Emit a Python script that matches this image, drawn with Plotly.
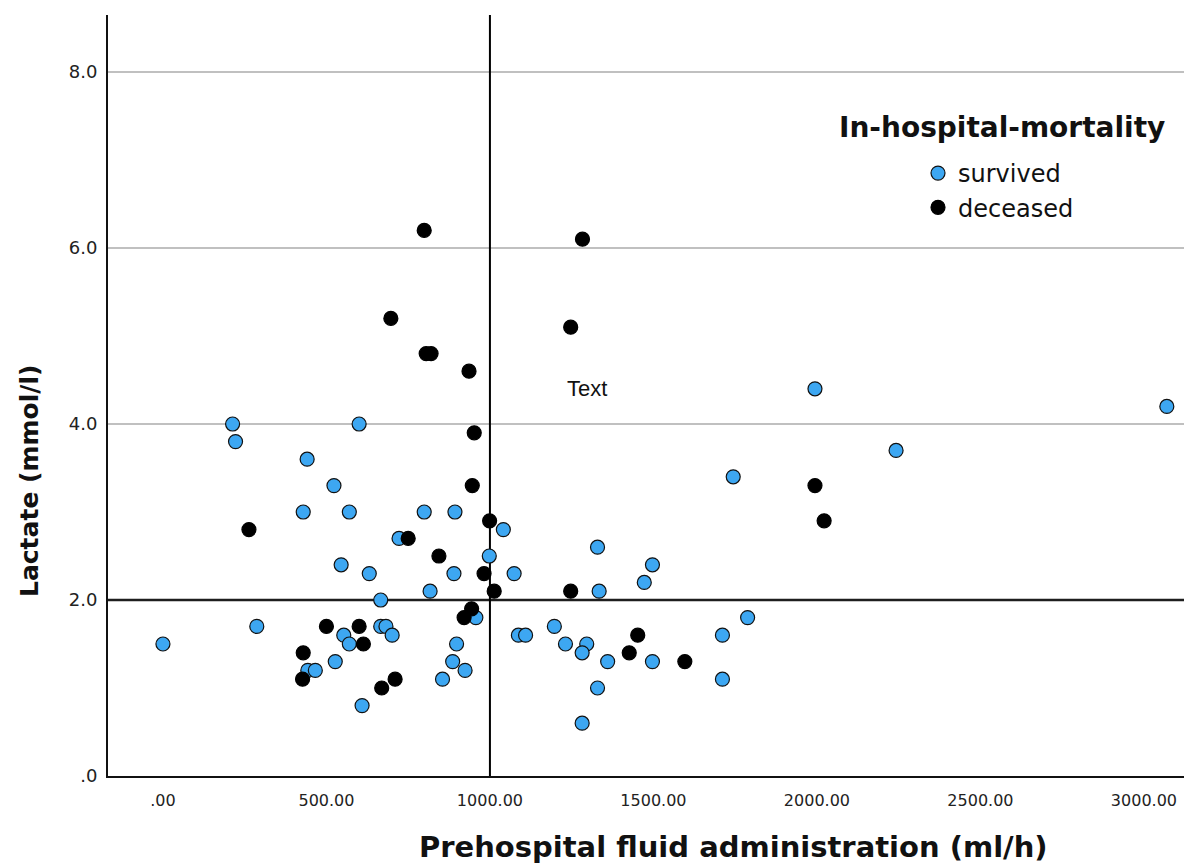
import plotly.graph_objects as go

# ---- data ----
survived_fluid = [0, 213, 222, 287, 600, 441, 429, 523, 570, 545, 631, 666, 666, 682,
                  553, 570, 701, 527, 443, 466, 609, 722, 799, 893, 1041, 998, 890, 1074,
                  817, 1334, 1329, 1497, 1472, 957, 898, 886, 924, 855, 1087, 1109, 1197,
                  1231, 1296, 1282, 1360, 1329, 1282, 1497, 1994, 2242, 1744, 1788, 1711,
                  1711, 3070]
survived_lactate = [1.5, 4.0, 3.8, 1.7, 4.0, 3.6, 3.0, 3.3, 3.0, 2.4, 2.3, 2.0, 1.7, 1.7,
                    1.6, 1.5, 1.6, 1.3, 1.2, 1.2, 0.8, 2.7, 3.0, 3.0, 2.8, 2.5, 2.3, 2.3,
                    2.1, 2.1, 2.6, 2.4, 2.2, 1.8, 1.5, 1.3, 1.2, 1.1, 1.6, 1.6, 1.7,
                    1.5, 1.5, 1.4, 1.3, 1.0, 0.6, 1.3, 4.4, 3.7, 3.4, 1.8, 1.6,
                    1.1, 4.2]

deceased_fluid = [263, 500, 600, 613, 429, 427, 669, 710, 952, 946, 999, 750, 844, 982,
                  1013, 1247, 944, 921, 1452, 1426, 1596, 1994, 2022, 799, 1283, 697,
                  1247, 805, 820, 936]
deceased_lactate = [2.8, 1.7, 1.7, 1.5, 1.4, 1.1, 1.0, 1.1, 3.9, 3.3, 2.9, 2.7, 2.5, 2.3,
                    2.1, 2.1, 1.9, 1.8, 1.6, 1.4, 1.3, 3.3, 2.9, 6.2, 6.1, 5.2,
                    5.1, 4.8, 4.8, 4.6]

group_names = ["survived", "deceased"]
legend_title = "In-hospital-mortality"
x_title = "Prehospital fluid administration (ml/h)"
y_title = "Lactate (mmol/l)"
x_tick_vals = [0, 500, 1000, 1500, 2000, 2500, 3000]
x_tick_text = [".00", "500.00", "1000.00", "1500.00", "2000.00", "2500.00", "3000.00"]
y_tick_vals = [0, 2, 4, 6, 8]
y_tick_text = [".0", "2.0", "4.0", "6.0", "8.0"]
ref_fluid = 1000
ref_lactate = 2.0
note_text = "Text"
note_pos = (1297, 4.4)

# ---- styles / geometry ----
BLUE = "#3DA7F2"
OFF = 8                      # page body margin of the html page
W, H = 1192 - OFF, 867 - OFF
M_L, M_R, M_T = 108 - OFF, 0, 15 - OFF
M_B = H - (776 - OFF)
PW, PH = W - M_L - M_R, H - M_T - M_B


def px_to_paper(sx, sy):
    """screen pixel -> paper coordinates"""
    fx, fy = sx - OFF, sy - OFF
    return (fx - M_L) / PW, (H - M_B - fy) / PH


fig = go.Figure()
fig.add_trace(go.Scatter(
    x=survived_fluid, y=survived_lactate, mode="markers", name=group_names[0],
    marker=dict(size=14, color=BLUE, line=dict(color="#111111", width=1.2)),
    cliponaxis=False,
))
fig.add_trace(go.Scatter(
    x=deceased_fluid, y=deceased_lactate, mode="markers", name=group_names[1],
    marker=dict(size=14, color="#000000", line=dict(color="#000000", width=1.2)),
    cliponaxis=False,
))

# horizontal grid lines (at the y ticks, except the reference line and the axis)
for v in y_tick_vals:
    if v in (0, ref_lactate):
        continue
    fig.add_shape(type="line", xref="paper", yref="y", x0=0, x1=1, y0=v, y1=v,
                  line=dict(color="#ABABAB", width=1.5), layer="below")

# reference lines
fig.add_shape(type="line", xref="paper", yref="y", x0=0, x1=1, y0=ref_lactate, y1=ref_lactate,
              line=dict(color="#1E1E1E", width=2.5), layer="below")
fig.add_shape(type="line", xref="x", yref="paper", x0=ref_fluid, x1=ref_fluid, y0=0, y1=1,
              line=dict(color="#000000", width=2), layer="below")

fig.add_annotation(x=note_pos[0], y=note_pos[1], xref="x", yref="y", text=note_text,
                   showarrow=False, font=dict(family="Liberation Sans", size=22, color="#111111"))

# legend title
tx, ty = px_to_paper(1002, 127)
fig.add_annotation(x=tx, y=ty, xref="paper", yref="paper",
                   text="<b>" + legend_title + "</b>", showarrow=False,
                   xanchor="center", yanchor="middle",
                   font=dict(family="DejaVu Sans", size=28, color="#111111"))

# axis titles
ax, ay = px_to_paper(733, 847)
fig.add_annotation(x=ax, y=ay, xref="paper", yref="paper",
                   text="<b>" + x_title + "</b>", showarrow=False,
                   xanchor="center", yanchor="middle",
                   font=dict(family="DejaVu Sans", size=29, color="#111111"))
bx, by = px_to_paper(29, 481)
fig.add_annotation(x=bx, y=by, xref="paper", yref="paper",
                   text="<b>" + y_title + "</b>", showarrow=False, textangle=-90,
                   xanchor="center", yanchor="middle",
                   font=dict(family="DejaVu Sans", size=25, color="#111111"))

lx, ly = px_to_paper(918, 151)
fig.update_layout(
    width=W, height=H,
    margin=dict(l=M_L, r=M_R, t=M_T, b=M_B, pad=0, autoexpand=False),
    paper_bgcolor="white", plot_bgcolor="white",
    showlegend=True,
    legend=dict(x=lx, y=ly, xanchor="left", yanchor="top", bgcolor="rgba(0,0,0,0)",
                font=dict(family="DejaVu Sans", size=24, color="#111111"),
                itemwidth=30, tracegroupgap=0),
    xaxis=dict(
        range=[-168, 3147], tickmode="array", tickvals=x_tick_vals, ticktext=x_tick_text,
        showgrid=False, zeroline=False, showline=True, linecolor="#111111", linewidth=2,
        ticks="", ticklabelstandoff=9,
        tickfont=dict(family="DejaVu Sans", size=16, color="#222222"),
    ),
    yaxis=dict(
        range=[0, 8.648], tickmode="array", tickvals=y_tick_vals, ticktext=y_tick_text,
        showgrid=False, zeroline=False, showline=True, linecolor="#111111", linewidth=2,
        ticks="", ticklabelstandoff=5,
        tickfont=dict(family="DejaVu Sans", size=18, color="#222222"),
    ),
)

fig.write_html("out.html")
